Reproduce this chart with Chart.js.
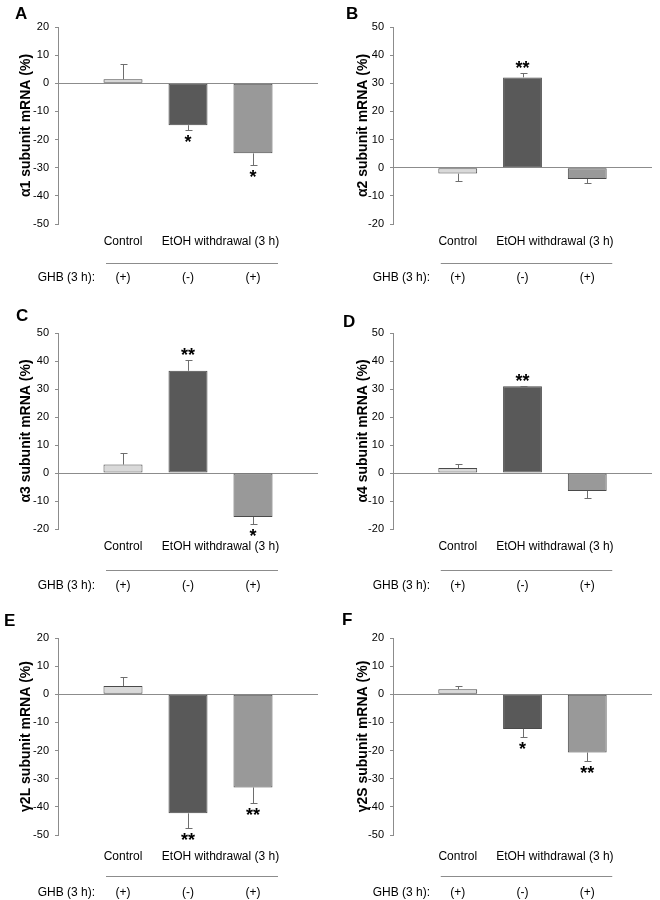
<!DOCTYPE html>
<html>
<head>
<meta charset="utf-8">
<script src="https://cdn.jsdelivr.net/npm/chart.js@4"></script>
<style>
  html, body { margin: 0; padding: 0; background: #fff; overflow: hidden; }
  #page { position: relative; width: 660px; height: 900px; }
  canvas { position: absolute; }
</style>
</head>
<body>
<div id="page">
  <canvas id="panelA" width="330" height="300" style="left:0px;top:0px"></canvas>
  <canvas id="panelB" width="330" height="300" style="left:330px;top:0px"></canvas>
  <canvas id="panelC" width="330" height="300" style="left:0px;top:305px"></canvas>
  <canvas id="panelD" width="330" height="300" style="left:330px;top:305px"></canvas>
  <canvas id="panelE" width="330" height="290" style="left:0px;top:610px"></canvas>
  <canvas id="panelF" width="330" height="290" style="left:330px;top:610px"></canvas>
</div>
<script>
// categories and rows under the bars
var groupLabels = ['Control', 'EtOH withdrawal (3 h)'];
var ghbLabel = 'GHB (3 h):';
var ghbTreatment = ['(+)', '(-)', '(+)'];

// axis ranges (tick step 10)
var yMin = [-50, -20, -20, -20, -50, -50];
var yMax = [20, 50, 50, 50, 20, 20];
var yStep = 10;
var panelLetters = ['A', 'B', 'C', 'D', 'E', 'F'];
var yTitles = ['α1 subunit mRNA (%)', 'α2 subunit mRNA (%)', 'α3 subunit mRNA (%)',
               'α4 subunit mRNA (%)', 'γ2L subunit mRNA (%)', 'γ2S subunit mRNA (%)'];

// mean change vs control, SEM, significance marks
var alpha1Mean = [1.4, -14.9, -24.9];
var alpha1Sem = [5.3, 1.8, 4.0];
var alpha1Sig = ['', '*', '*'];

var alpha2Mean = [-2.1, 32.1, -4.0];
var alpha2Sem = [2.7, 1.5, 1.6];
var alpha2Sig = ['', '**', ''];

var alpha3Mean = [3.0, 36.5, -15.7];
var alpha3Sem = [4.0, 3.7, 2.5];
var alpha3Sig = ['', '**', '*'];

var alpha4Mean = [1.8, 31.0, -6.4];
var alpha4Sem = [1.4, 0.2, 2.6];
var alpha4Sig = ['', '**', ''];

var gamma2LMean = [2.9, -42.3, -33.1];
var gamma2LSem = [3.1, 5.3, 5.4];
var gamma2LSig = ['', '**', '**'];

var gamma2SMean = [1.8, -12.3, -20.7];
var gamma2SSem = [1.1, 2.8, 2.9];
var gamma2SSig = ['', '*', '**'];

var barColors = ['#d9d9d9', '#595959', '#999999'];
var FONT = "'Liberation Sans', Arial, sans-serif";

Chart.defaults.font.family = FONT;

var panels = [
  { mean: alpha1Mean, sem: alpha1Sem, sig: alpha1Sig },
  { mean: alpha2Mean, sem: alpha2Sem, sig: alpha2Sig },
  { mean: alpha3Mean, sem: alpha3Sem, sig: alpha3Sig },
  { mean: alpha4Mean, sem: alpha4Sem, sig: alpha4Sig },
  { mean: gamma2LMean, sem: gamma2LSem, sig: gamma2LSig },
  { mean: gamma2SMean, sem: gamma2SSem, sig: gamma2SSig }
];

// placement of each panel inside its canvas
var rowText = [
  { label: 18, line: 39, ghb: 54 },
  { label: 18, line: 41, ghb: 57 },
  { label: 22, line: 41, ghb: 58 }
];
var boxes = [
  { axis: 58, right: 12, top: 27, bottom: 76, titleX: 26, letterX: 15, letterY: 19 },
  { axis: 63, right: 8,  top: 27, bottom: 76, titleX: 33, letterX: 16, letterY: 19 },
  { axis: 58, right: 12, top: 28, bottom: 76, titleX: 26, letterX: 16, letterY: 16 },
  { axis: 63, right: 8,  top: 28, bottom: 76, titleX: 33, letterX: 13, letterY: 22 },
  { axis: 58, right: 12, top: 28, bottom: 65, titleX: 26, letterX: 4,  letterY: 16 },
  { axis: 63, right: 8,  top: 28, bottom: 65, titleX: 33, letterX: 12, letterY: 15 }
];

function extrasFor(p, box, row, letter) {
  return {
    id: 'extras',
    afterDatasetsDraw: function (chart) {
      var ctx = chart.ctx;
      var meta = chart.getDatasetMeta(0);
      var y = chart.scales.y;
      ctx.save();
      ctx.strokeStyle = '#6e6e6e';
      ctx.lineWidth = 1;
      p.mean.forEach(function (m, i) {
        var bar = meta.data[i + 1];
        var sign = m < 0 ? -1 : 1;
        var endY = Math.round(y.getPixelForValue(m + sign * p.sem[i])) + 0.5;
        var x = Math.round(bar.x) + 0.5;
        ctx.beginPath();
        ctx.moveTo(x, bar.y);
        ctx.lineTo(x, endY);
        ctx.moveTo(x - 3, endY);
        ctx.lineTo(x + 4, endY);
        ctx.stroke();
        if (p.sig[i]) {
          ctx.fillStyle = '#000';
          ctx.font = 'bold 18px ' + FONT;
          ctx.textAlign = 'center';
          ctx.textBaseline = 'alphabetic';
          ctx.fillText(p.sig[i], bar.x, sign < 0 ? endY + 17 : endY);
        }
      });
      ctx.restore();
    },
    afterDraw: function (chart) {
      var ctx = chart.ctx;
      var xs = chart.scales.x;
      var area = chart.chartArea;
      var c1 = xs.getPixelForValue(1), c2 = xs.getPixelForValue(2), c3 = xs.getPixelForValue(3);
      ctx.save();
      ctx.fillStyle = '#000';
      ctx.font = '12px ' + FONT;
      ctx.textAlign = 'center';
      ctx.textBaseline = 'middle';
      ctx.fillText(groupLabels[0], c1, area.bottom + row.label);
      ctx.fillText(groupLabels[1], (c2 + c3) / 2, area.bottom + row.label);

      ctx.strokeStyle = '#8c8c8c';
      ctx.lineWidth = 1;
      ctx.beginPath();
      ctx.moveTo(c1 - 17, Math.round(area.bottom + row.line) + 0.5);
      ctx.lineTo(c3 + 25, Math.round(area.bottom + row.line) + 0.5);
      ctx.stroke();

      ctx.textAlign = 'right';
      ctx.fillText(ghbLabel, area.left + 37, area.bottom + row.ghb);
      ctx.textAlign = 'center';
      [c1, c2, c3].forEach(function (cx, i) {
        ctx.fillText(ghbTreatment[i], cx, area.bottom + row.ghb);
      });

      ctx.font = 'bold 17px ' + FONT;
      ctx.textAlign = 'left';
      ctx.textBaseline = 'alphabetic';
      ctx.fillText(letter, box.letterX, box.letterY);
      ctx.restore();
    }
  };
}

panels.forEach(function (p, k) {
  var box = boxes[k];
  var canvas = document.getElementById('panel' + panelLetters[k]);
  new Chart(canvas, {
    type: 'bar',
    data: {
      labels: ['', 'Control', 'EtOH', 'EtOH + GHB', ''],
      datasets: [{
        data: [null].concat(p.mean, [null]),
        backgroundColor: ['rgba(0,0,0,0)'].concat(barColors, ['rgba(0,0,0,0)']),
        borderColor: '#4a4a4a',
        borderWidth: 1,
        borderSkipped: false,
        categoryPercentage: 1,
        barPercentage: 0.6
      }]
    },
    options: {
      responsive: false,
      animation: false,
      events: [],
      layout: { padding: { top: box.top, bottom: box.bottom, left: 0, right: box.right } },
      plugins: { legend: { display: false }, tooltip: { enabled: false } },
      scales: {
        x: { type: 'category', offset: false, display: false },
        y: {
          min: yMin[k],
          max: yMax[k],
          afterFit: function (s) { s.width = box.axis; },
          ticks: { stepSize: yStep, color: '#000', font: { size: 11 }, padding: 6 },
          grid: {
            color: function (c) { return c.tick && c.tick.value === 0 ? '#8c8c8c' : 'rgba(0,0,0,0)'; },
            tickColor: '#8c8c8c',
            tickLength: 3
          },
          border: { color: '#8c8c8c' },
          title: {
            display: true,
            text: yTitles[k],
            color: '#000',
            font: { size: 14, weight: 'bold' },
            padding: { top: box.titleX - 8.4, bottom: 0 }
          }
        }
      }
    },
    plugins: [extrasFor(p, box, rowText[Math.floor(k / 2)], panelLetters[k])]
  });
});
</script>
</body>
</html>
